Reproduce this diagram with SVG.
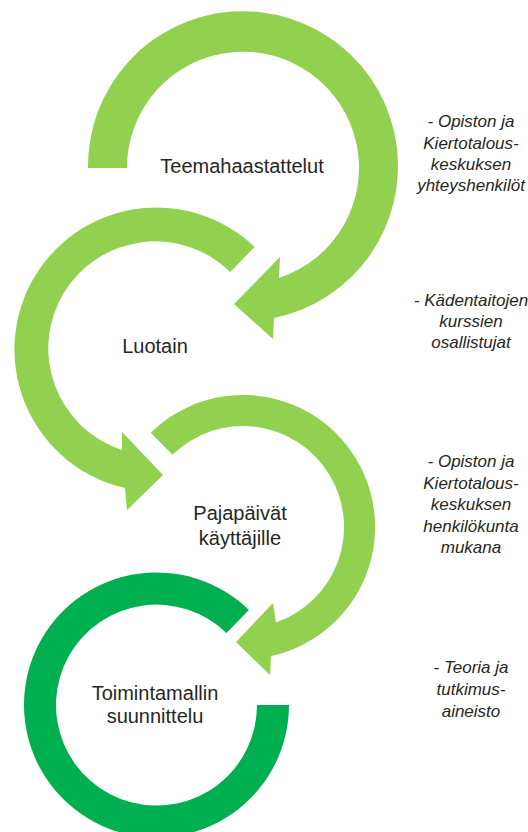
<svg xmlns="http://www.w3.org/2000/svg" width="528" height="832" viewBox="0 0 528 832">
  <style>
    .light { fill: #92D050; }
    .dark { fill: #00B050; }
    .label { font-family: "Liberation Sans", Arial, sans-serif; font-size: 20px; fill: #262626; text-anchor: middle; }
    .note { font-family: "Liberation Sans", Arial, sans-serif; font-size: 17px; font-style: italic; fill: #262626; text-anchor: middle; }
  </style>
  <rect width="528" height="832" fill="#ffffff"/>

  <g id="node-teemahaastattelut">
    <path class="light" d="M 88 168 A 155 155 0 1 1 274 318 L 273 339 L 234 304 L 280 257 L 279 278 A 116 116 0 1 0 127 168 Z"/>
    <text class="label" x="242" y="173">Teemahaastattelut</text>
  </g>

  <g id="node-luotain">
    <path class="light" d="M 254.6 246.9 A 142 142 0 1 0 125 488 L 127 510 L 163 475 L 122 432 L 122 450 A 107 107 0 1 1 230.3 272 Z"/>
    <text class="label" x="155" y="353">Luotain</text>
  </g>

  <g id="node-pajapaivat">
    <path class="light" d="M 150.7 432.7 A 132 132 0 1 1 271 656 L 270 675 L 236 642 L 273 603 L 275.9 622.5 A 101 101 0 1 0 172.4 454.8 Z"/>
    <text class="label" x="240" y="520">Pajapäivät</text>
    <text class="label" x="240" y="545">käyttäjille</text>
  </g>

  <g id="node-toimintamallin">
    <path class="dark" d="M 248.9 610 A 132.5 132.5 0 1 0 289 705 L 257 705 A 100.5 100.5 0 1 1 226.5 633 Z"/>
    <text class="label" x="155" y="700">Toimintamallin</text>
    <text class="label" x="155" y="723">suunnittelu</text>
  </g>

  <g id="connectors"></g>

  <g id="note-1">
    <text class="note" x="471" y="127">- Opiston ja</text>
    <text class="note" x="471" y="149">Kiertotalous-</text>
    <text class="note" x="471" y="170">keskuksen</text>
    <text class="note" x="471" y="191">yhteyshenkilöt</text>
  </g>

  <g id="note-2">
    <text class="note" x="471" y="306">- Kädentaitojen</text>
    <text class="note" x="471" y="327">kurssien</text>
    <text class="note" x="471" y="348">osallistujat</text>
  </g>

  <g id="note-3">
    <text class="note" x="471" y="467">- Opiston ja</text>
    <text class="note" x="471" y="489">Kiertotalous-</text>
    <text class="note" x="471" y="510">keskuksen</text>
    <text class="note" x="471" y="532">henkilökunta</text>
    <text class="note" x="471" y="553">mukana</text>
  </g>

  <g id="note-4">
    <text class="note" x="471" y="673">- Teoria ja</text>
    <text class="note" x="471" y="695">tutkimus-</text>
    <text class="note" x="471" y="717">aineisto</text>
  </g>
</svg>
